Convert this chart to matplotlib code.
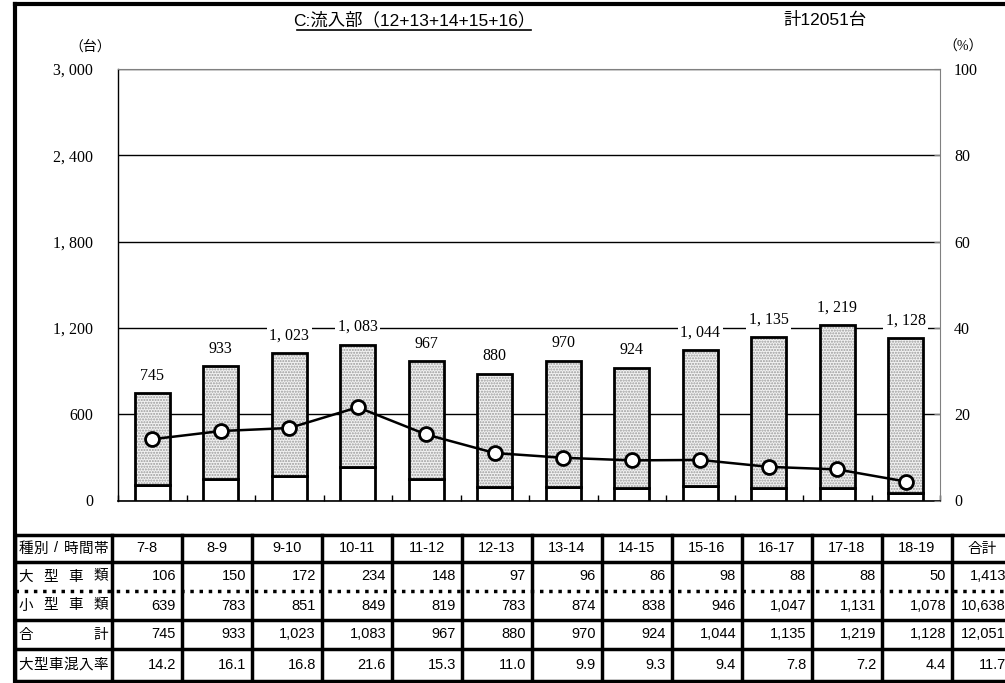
import numpy as np
import matplotlib.pyplot as plt
from matplotlib.lines import Line2D

plt.rcParams['font.family'] = ['Liberation Sans', 'Noto Sans CJK JP', 'DejaVu Sans']

# data
hours = ['7-8', '8-9', '9-10', '10-11', '11-12', '12-13', '13-14', '14-15', '15-16', '16-17', '17-18', '18-19']
large = [106, 150, 172, 234, 148, 97, 96, 86, 98, 88, 88, 50]
small = [639, 783, 851, 849, 819, 783, 874, 838, 946, 1047, 1131, 1078]
total = [745, 933, 1023, 1083, 967, 880, 970, 924, 1044, 1135, 1219, 1128]
ratio = [14.2, 16.1, 16.8, 21.6, 15.3, 11.0, 9.9, 9.3, 9.4, 7.8, 7.2, 4.4]
sum_large, sum_small, sum_total, sum_ratio = 1413, 10638, 12051, 11.7
title = 'C:流入部（12+13+14+15+16）'
total_text = '計12051台'
row_names = ['種別/時間帯', '大型車類', '小型車類', '合計', '大型車混入率']

W, H = 1005, 683
fig = plt.figure(figsize=(W / 100, H / 100), dpi=100)

def fx(x):
    return x / W

def fy(y):
    return 1 - y / H

serif = ['Liberation Serif', 'Noto Sans CJK JP']

# chart
ax = fig.add_axes([fx(118), fy(500.5), fx(940) - fx(118), fy(69) - fy(500.5)])
x = np.arange(len(hours))
bw = 0.51
ax.bar(x, large, bw, color='white', edgecolor='black', linewidth=2, zorder=3)
ax.bar(x, small, bw, bottom=large, color='#f2f2f2', edgecolor='#9a9a9a', linewidth=0,
       hatch='......', zorder=3)
ax.bar(x, small, bw, bottom=large, fill=False, edgecolor='black', linewidth=2, zorder=4)

for i, t in enumerate(total):
    ax.annotate('{:,}'.format(t).replace(',', ', '), (x[i], t), xytext=(0, 7),
                textcoords='offset points', ha='center', va='bottom',
                fontsize=11.5, family=serif, zorder=5,
                bbox=dict(boxstyle='square,pad=0.15', fc='white', ec='none'))

ax.set_xlim(-0.5, len(hours) - 0.5)
ax.set_ylim(0, 3000)
ax.set_yticks(np.arange(0, 3001, 600))
ax.set_yticklabels(['{:,}'.format(v).replace(',', ', ') for v in range(0, 3001, 600)],
                   family=serif, fontsize=11.5)
ax.tick_params(axis='y', length=0, pad=18)
ax.set_xticks(np.arange(len(hours) + 1) - 0.5)
ax.set_xticklabels([])
ax.tick_params(axis='x', direction='in', length=4, width=1)
ax.grid(axis='y', color='black', linewidth=1)
ax.set_axisbelow(True)
for s in ['top', 'right']:
    ax.spines[s].set_color('#808080')
ax.spines['left'].set_linewidth(1)
ax.spines['bottom'].set_linewidth(1.2)
ax.text(-0.008, 1.035, '（台）', transform=ax.transAxes, ha='right', va='bottom',
        fontsize=10, family=serif)

ax2 = ax.twinx()
ax2.plot(x, ratio, color='black', linewidth=1.8, marker='o', markersize=10,
         markerfacecolor='white', markeredgecolor='black', markeredgewidth=2, zorder=6)
ax2.set_ylim(0, 100)
ax2.set_yticks(np.arange(0, 101, 20))
ax2.set_yticklabels([str(v) for v in range(0, 101, 20)], family=serif, fontsize=11.5)
ax2.tick_params(axis='y', direction='in', length=4, pad=10, color='#808080')
for s in ['top', 'right', 'left', 'bottom']:
    ax2.spines[s].set_visible(False)
ax2.text(1.004, 1.035, '（%）', transform=ax.transAxes, ha='left', va='bottom',
         fontsize=10, family=serif)

# title
fig.text(fx(414), fy(20), title, ha='center', va='center', fontsize=12.5)
fig.add_artist(Line2D([fx(297), fx(531)], [fy(30), fy(30)], color='black', linewidth=1.2))
fig.text(fx(825), fy(20), total_text, ha='center', va='center', fontsize=12.5)

# outer frame
fig.add_artist(Line2D([fx(15), fx(15)], [fy(4), fy(682)], color='black', linewidth=3))
fig.add_artist(Line2D([fx(15), fx(1005)], [fy(4), fy(4)], color='black', linewidth=3))

# table
col_x = [15] + [112 + 70 * i for i in range(13)] + [1012]
row_y = [535, 562, 591, 620, 649, 681]
for i, y in enumerate(row_y):
    ls = ':' if i == 2 else '-'
    fig.add_artist(Line2D([fx(15), fx(1005)], [fy(y), fy(y)], color='black',
                          linewidth=2.5, linestyle=ls))
for cx in col_x[:-1]:
    fig.add_artist(Line2D([fx(cx), fx(cx)], [fy(535), fy(681)], color='black', linewidth=2.5))

rows = [
    large + [sum_large],
    small + [sum_small],
    total + [sum_total],
    ['{:.1f}'.format(r) for r in ratio] + ['{:.1f}'.format(sum_ratio)],
]

for r, name in enumerate(row_names):
    yc = (row_y[r] + row_y[r + 1]) / 2
    chars = list(name)
    n = len(chars)
    left, right = 26, 101
    for k, ch in enumerate(chars):
        xc = left + (right - left) * k / (n - 1)
        fig.text(fx(xc), fy(yc), ch, ha='center', va='center', fontsize=10.5)

heads = hours + ['合計']
for c, h in enumerate(heads):
    xc = (col_x[c + 1] + col_x[c + 2]) / 2
    fig.text(fx(xc), fy((row_y[0] + row_y[1]) / 2), h, ha='center', va='center', fontsize=10.5)

for r, vals in enumerate(rows):
    yc = (row_y[r + 1] + row_y[r + 2]) / 2
    for c, v in enumerate(vals):
        s = '{:,}'.format(v) if isinstance(v, int) else v
        fig.text(fx(col_x[c + 2] - 6), fy(yc), s, ha='right', va='center', fontsize=10.5)

fig.savefig('out.png', dpi=100)
